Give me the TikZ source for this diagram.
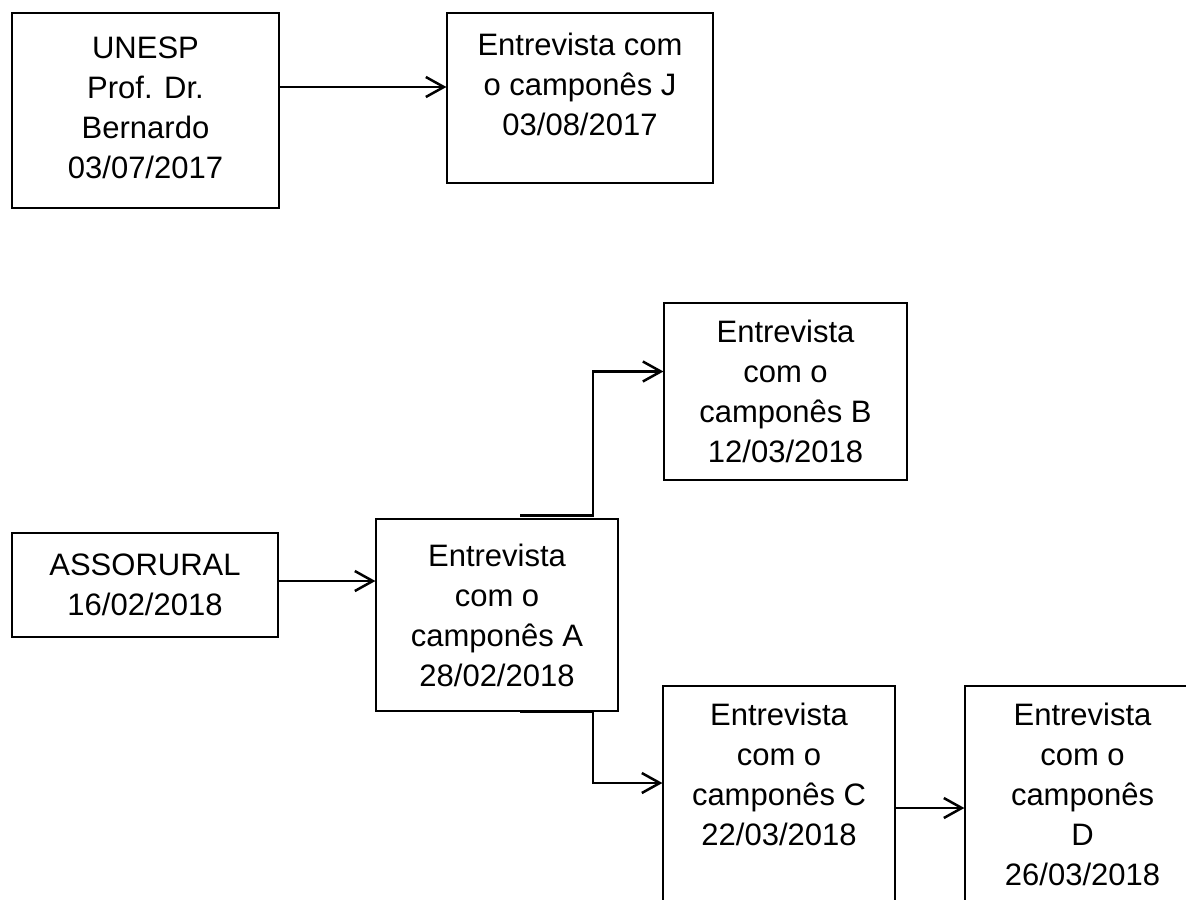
\documentclass[tikz,border=0pt]{standalone}
\usepackage{fontspec}
\setmainfont{Liberation Sans}
\usetikzlibrary{arrows.meta}
\tikzset{
    etapa/.style={
        draw,
        rectangle,
        align=center,
        line width=0.6pt,
        inner sep=2pt,
        font=\fontsize{15.5}{20}\selectfont
    },
    liga/.style={
        draw,
        line width=1.25pt,
        -{Straight Barb[length=9pt, width=10pt]}
    }
}
\begin{document}
\begin{tikzpicture}[x=0.5pt, y=-0.5pt]
    \useasboundingbox (0,0) rectangle (1186,899);
    % Contato pela UNESP
    \node[etapa, minimum width=133.5pt, minimum height=97.5pt] (unesp) at (145.5,110.5) {UNESP\\Prof. Dr.\\Bernardo\\03/07/2017\rule[-3pt]{0pt}{3pt}};
    \node[etapa, minimum width=133pt, minimum height=85pt] (j) at (580,98) {Entrevista com\\o camponês J\\03/08/2017\rule[-14pt]{0pt}{14pt}};

    \draw[liga] ([yshift=11.75pt]unesp.east) -- ([yshift=5.5pt]j.west);

    % Contato pela ASSORURAL
    \node[etapa, minimum width=133pt, minimum height=52pt] (asso) at (145,585) {ASSORURAL\\16/02/2018};
    \node[etapa, minimum width=121pt, minimum height=96pt] (a) at (497,615) {Entrevista\\com o\\camponês A\\28/02/2018};
    \node[etapa, minimum width=121.5pt, minimum height=88.5pt] (b) at (785.5,391.5) {Entrevista\\com o\\camponês B\\12/03/2018};
    \node[etapa, minimum width=116pt, minimum height=122pt] (c) at (779,808) {Entrevista\\com o\\camponês C\\22/03/2018\rule[-34pt]{0pt}{34pt}};
    \node[etapa, minimum width=117.5pt, minimum height=122pt] (d) at (1082.5,808) {Entrevista\\com o\\camponês\\D\\26/03/2018\rule[-14pt]{0pt}{14pt}};

    \coordinate (atopo) at ([xshift=11.5pt, yshift=1.5pt]a.north);
    \coordinate (abase) at ([xshift=11.5pt]a.south);

    \draw[liga] ([yshift=2pt]asso.east) -- ([yshift=17pt]a.west);
    \draw[liga] (atopo) -- ++(73,0) |- ([yshift=10pt]b.west);
    \draw[liga] (abase) -- ++(73,0) |- ([yshift=12.5pt]c.west);
    \draw[liga] (c.east) -- (d.west);
\end{tikzpicture}
\end{document}
